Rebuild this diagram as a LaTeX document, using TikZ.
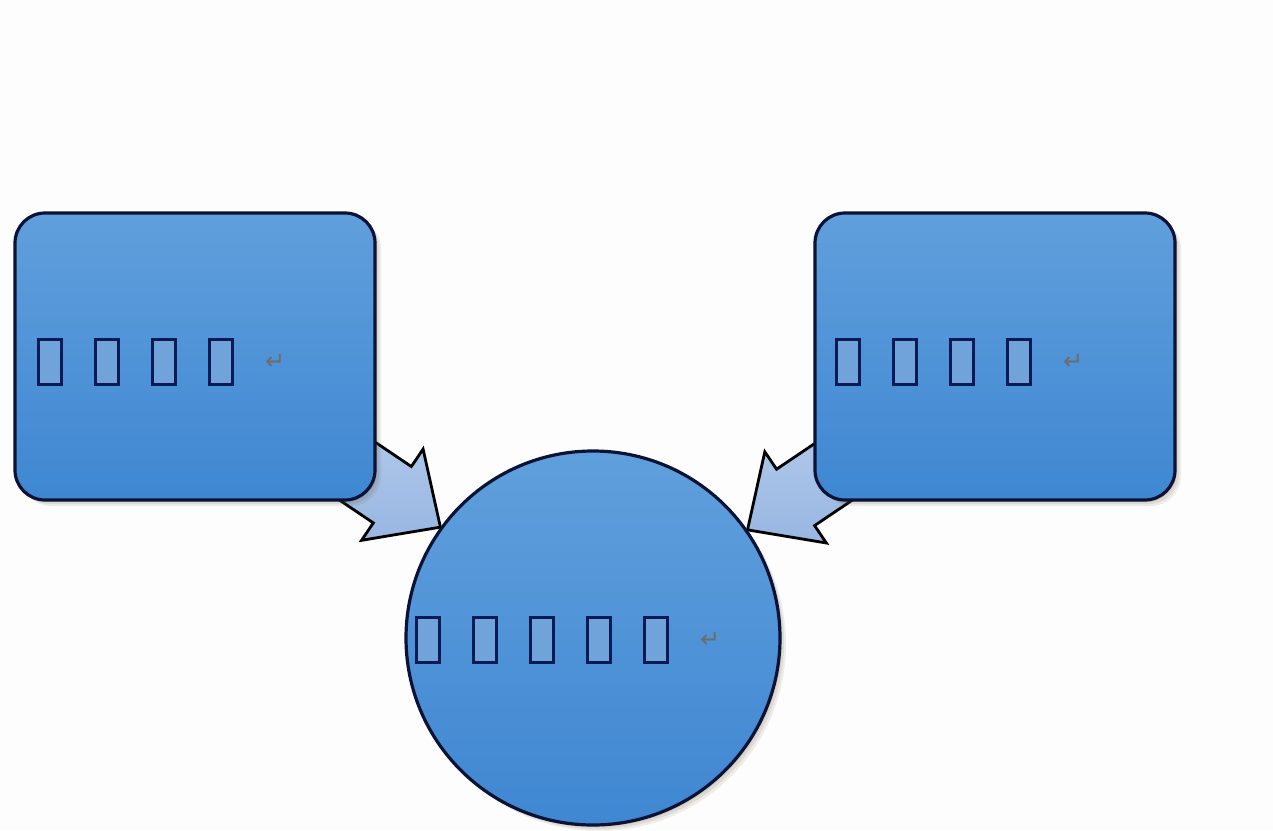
\documentclass[tikz,border=0pt]{standalone}
\usepackage{fontspec}
\newfontfamily\dvs{DejaVu Sans}
\usetikzlibrary{shadows,calc}
\pgfdeclarelayer{backdrop}
\pgfdeclarelayer{arrowlayer}
\pgfsetlayers{backdrop,arrowlayer,main}
\definecolor{boxtop}{HTML}{609FDC}
\definecolor{boxbot}{HTML}{3F87D2}
\definecolor{edge}{HTML}{0A1335}
\definecolor{arrtop}{HTML}{B3CBEC}
\definecolor{arrbot}{HTML}{98B6E2}
\definecolor{ink}{HTML}{0A1A55}
\definecolor{tofuin}{HTML}{6FA3DA}
\definecolor{bgc}{HTML}{FDFDFD}
\definecolor{shade}{HTML}{6E5A3C}
\newcommand\tofu{\makebox[57pt][l]{\setlength\fboxsep{0pt}\setlength\fboxrule{3pt}\fcolorbox{ink}{tofuin}{\rule{0pt}{42pt}\hspace{20pt}}}}
\newcommand\retmark{\raisebox{14pt}{\color{gray!85!black}\fontsize{24pt}{24pt}\dvs ↵}}
\begin{document}
\begin{tikzpicture}[x=1pt,y=-1pt,
  softshadow/.style={
    drop shadow={shadow xshift=2pt, shadow yshift=-2pt, opacity=0.12, fill=shade},
    drop shadow={shadow xshift=4pt, shadow yshift=-4pt, opacity=0.12, fill=shade},
    drop shadow={shadow xshift=6pt, shadow yshift=-6pt, opacity=0.10, fill=shade}},
  panel/.style={draw=edge, line width=3.2pt, top color=boxtop, bottom color=boxbot, softshadow},
  roundbox/.style={panel, rounded corners=30pt, minimum width=360pt, minimum height=287pt, inner sep=0pt},
  hub/.style={panel, circle, minimum size=374pt, inner sep=0pt},
  blockarrow/.style={draw=black, line width=2.8pt, top color=arrtop, bottom color=arrbot, line join=miter},
  lbl/.style={inner sep=0pt, anchor=west, text=ink}
]
\begin{pgfonlayer}{backdrop}
\fill[bgc] (0,0) rectangle (1273,830);
\end{pgfonlayer}
\useasboundingbox (0,0) rectangle (1273,830);

\node[roundbox] (lbox) at (195,356.5) {};
\node[roundbox] (rbox) at (995,356.5) {};
\node[hub] (circ) at (593,638) {};

\begin{pgfonlayer}{arrowlayer}
\draw[blockarrow, shift={(circ.144.6)}, rotate=-34]
  (0,0) -- (-58,55) -- (-58,34) -- (-150,34) -- (-150,-34) -- (-58,-34) -- (-58,-55) -- cycle;
\draw[blockarrow, shift={(circ.35.4)}, rotate=-146]
  (0,0) -- (-58,55) -- (-58,34) -- (-150,34) -- (-150,-34) -- (-58,-34) -- (-58,-55) -- cycle;
\end{pgfonlayer}

\node[lbl] (ltext) at (37,362) {\tofu\tofu\tofu\tofu\retmark};
\node[lbl] (rtext) at (835,362) {\tofu\tofu\tofu\tofu\retmark};
\node[lbl] (ctext) at (415,640) {\tofu\tofu\tofu\tofu\tofu\retmark};
\end{tikzpicture}
\end{document}
